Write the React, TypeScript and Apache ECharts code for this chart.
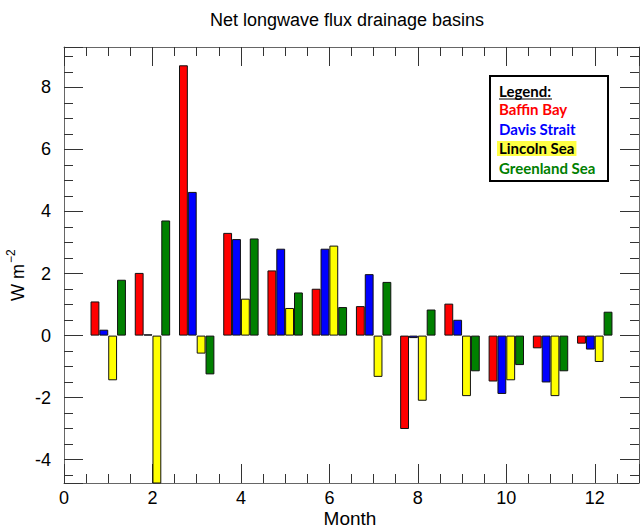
import React, { useEffect, useRef } from "react";
import * as echarts from "echarts";

const months = [1, 2, 3, 4, 5, 6, 7, 8, 9, 10, 11, 12];
const baffinBay = [1.1, 2.02, 8.71, 3.31, 2.1, 1.51, 0.95, -3.01, 1.03, -1.48, -0.41, -0.26];
const davisStrait = [0.19, 0.04, 4.63, 3.11, 2.8, 2.8, 1.98, -0.08, 0.51, -1.88, -1.51, -0.45];
const lincolnSea = [-1.44, -5.6, -0.58, 1.19, 0.89, 2.9, -1.33, -2.1, -1.95, -1.44, -1.95, -0.85];
const greenlandSea = [1.8, 3.71, -1.25, 3.13, 1.39, 0.92, 1.73, 0.84, -1.15, -0.95, -1.15, 0.77];

const seriesNames = ["Baffin Bay", "Davis Strait", "Lincoln Sea", "Greenland Sea"];
const seriesColors = ["#ff0000", "#0000ff", "#ffff00", "#008000"];
const legendTextColors = ["#ff0000", "#0000ff", "#000000", "#008000"];

const titleText = "Net longwave flux drainage basins";
const xName = "Month";

export default function App() {
  const ref = useRef<HTMLDivElement>(null);

  useEffect(() => {
    document.body.style.margin = "0";
    if (!ref.current) return;
    const chart = echarts.init(ref.current, undefined, { renderer: "svg" });
    const tickCommon = {
      axisLine: { show: true, onZero: false, lineStyle: { color: "#666", width: 1 } },
      axisTick: { show: true, inside: true, length: 19, lineStyle: { color: "#333", width: 1 } },
      minorTick: { show: true, splitNumber: 4, length: 9, lineStyle: { color: "#333", width: 1 } },
      splitLine: { show: false },
      minorSplitLine: { show: false },
    };
    const xBase = { type: "value", min: 0, max: 13, interval: 2, ...tickCommon };
    const yBase = {
      type: "value",
      min: -4.75,
      max: 9.3,
      splitNumber: 7,
      minInterval: 2,
      maxInterval: 2,
      ...tickCommon,
    };
    const allData = [baffinBay, davisStrait, lincolnSea, greenlandSea];
    const series = allData.map((vals, i) => ({
      type: "bar",
      name: seriesNames[i],
      xAxisIndex: 0,
      yAxisIndex: 0,
      data: months.map((m, j) => [m, vals[j]]),
      barGap: "0%",
      barCategoryGap: "20%",
      itemStyle: { color: seriesColors[i], borderColor: "#111", borderWidth: 1 },
      clip: true,
    }));

    const legendX = 499;
    const legendFont = "Lato";
    const legendItems = seriesNames.map((n, i) => ({
      type: "text",
      x: i === 2 ? legendX - 2 : legendX,
      y: 109 + i * 19.7,
      style: {
        text: n,
        fill: legendTextColors[i],
        font: `bold 15px ${legendFont}`,
        verticalAlign: "middle",
        backgroundColor: i === 2 ? "#ffff44" : undefined,
        padding: i === 2 ? [0, 2, 0, 2] : undefined,
      },
      z: 10,
    }));

    chart.setOption({
      animation: false,
      backgroundColor: "#fff",
      grid: { left: 64, right: 1, top: 47, bottom: 47, containLabel: false },
      xAxis: [
        {
          ...xBase,
          position: "bottom",
          axisLabel: {
            show: true,
            showMaxLabel: false,
            color: "#000",
            fontSize: 18,
            fontFamily: "Liberation Sans",
            margin: 6,
          },
        },
        { ...xBase, position: "top", axisLabel: { show: false } },
      ],
      yAxis: [
        {
          ...yBase,
          position: "left",
          axisLabel: {
            show: true,
            showMinLabel: false,
            showMaxLabel: false,
            color: "#000",
            fontSize: 18,
            fontFamily: "Liberation Sans",
            margin: 13,
          },
        },
        { ...yBase, position: "right", axisLabel: { show: false } },
      ],
      series,
      graphic: [
        {
          type: "text",
          x: 347,
          y: 20,
          style: {
            text: titleText,
            fill: "#000",
            font: "18px Liberation Sans",
            align: "center",
            verticalAlign: "middle",
          },
        },
        {
          type: "text",
          x: 350,
          y: 518,
          style: {
            text: xName,
            fill: "#000",
            font: "19px Liberation Sans",
            align: "center",
            verticalAlign: "middle",
          },
        },
        {
          type: "group",
          x: 18,
          y: 275,
          rotation: Math.PI / 2,
          children: [
            {
              type: "text",
              x: -26,
              y: 0,
              style: { text: "W m", fill: "#000", font: "18px Liberation Sans", align: "left", verticalAlign: "middle" },
            },
            {
              type: "text",
              x: 12,
              y: -7,
              style: { text: "\u22122", fill: "#000", font: "12px Liberation Sans", align: "left", verticalAlign: "middle" },
            },
          ],
        },
        {
          type: "rect",
          shape: { x: 490, y: 76, width: 118, height: 105 },
          style: { fill: "#fff", stroke: "#000", lineWidth: 2 },
          z: 5,
        },
        {
          type: "text",
          x: legendX,
          y: 91,
          style: { text: "Legend:", fill: "#000", font: `bold 15px ${legendFont}`, verticalAlign: "middle" },
          z: 10,
        },
        {
          type: "line",
          shape: { x1: legendX, y1: 99, x2: legendX + 53, y2: 99 },
          style: { stroke: "#000", lineWidth: 1 },
          z: 10,
        },
        ...legendItems,
      ],
    });
    return () => chart.dispose();
  }, []);

  return <div ref={ref} style={{ width: 640, height: 530 }} />;
}
